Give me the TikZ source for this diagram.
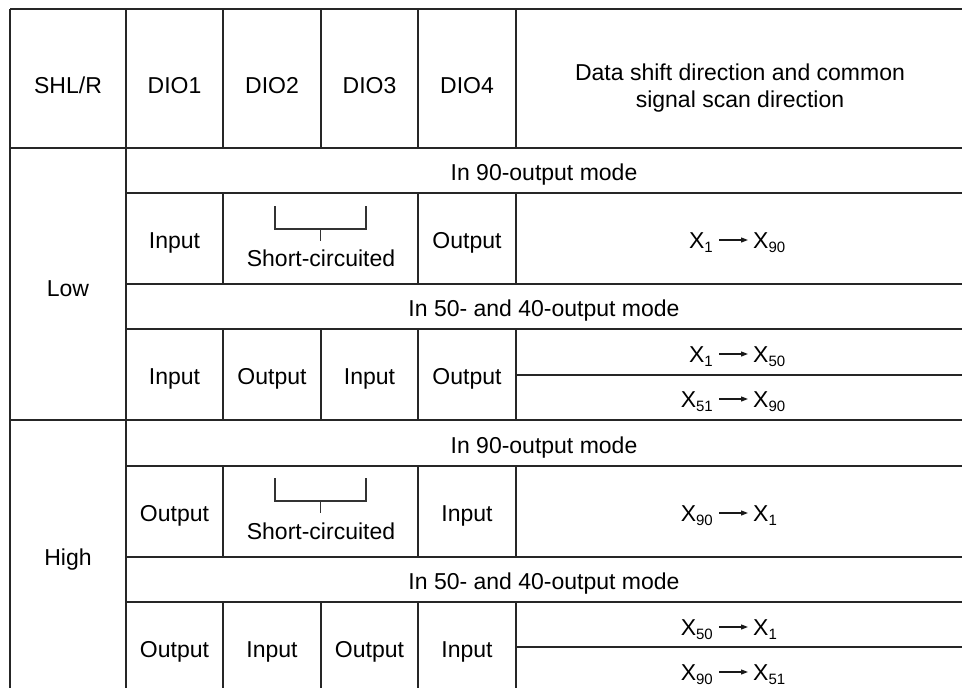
\documentclass[tikz,border=0pt]{standalone}
\usepackage{fontspec}
\setmainfont{Liberation Sans}
\usetikzlibrary{arrows.meta}
\newcommand\sbs[1]{\raisebox{-4pt}{\fontsize{15}{15}\selectfont #1}}
\begin{document}
\begin{tikzpicture}[x=1pt,y=-1pt,
  grid/.style={draw=black!85,line width=1.2pt},
  txt/.style={inner sep=0pt,anchor=base,font=\fontsize{23}{27}\selectfont},
  ltx/.style={txt,anchor=base east},
  rtx/.style={txt,anchor=base west},
  arr/.style={draw=black!90,line width=1.2pt,-{Triangle[length=7pt,width=5pt]}},
  brk/.style={draw=black!80,line width=1.2pt}]
\fill[white] (0,0) rectangle (962,688);
\useasboundingbox (0,0) rectangle (962,688);
\clip (0,0) rectangle (962,688);
% horizontal rules
\foreach \y in {9,148,420,693} \draw[grid] (10,\y) -- (975,\y);
\foreach \y in {193,284,329,466,557,602} \draw[grid] (126,\y) -- (975,\y);
\foreach \y in {375,647} \draw[grid] (516,\y) -- (975,\y);
% vertical rules
\draw[grid] (10,9) -- (10,693);
\draw[grid] (126,9) -- (126,693);
\foreach \x in {223,321,418,516} \draw[grid] (\x,9) -- (\x,148);
\foreach \x in {223,418,516} {
  \draw[grid] (\x,193) -- (\x,284);
  \draw[grid] (\x,466) -- (\x,557);
}
\foreach \x in {223,321,418,516} {
  \draw[grid] (\x,329) -- (\x,420);
  \draw[grid] (\x,602) -- (\x,693);
}
% header
\node[txt] (h0) at (68,93) {SHL/R};
\node[txt] (h1) at (174.5,93) {DIO1};
\node[txt] (h2) at (272,93) {DIO2};
\node[txt] (h3) at (369.5,93) {DIO3};
\node[txt] (h4) at (467,93) {DIO4};
\node[txt] (h5a) at (740,80) {Data shift direction and common};
\node[txt] (h5b) at (740,107) {signal scan direction};
% left labels
\node[txt] (low) at (68,296) {Low};
\node[txt] (high) at (68,565) {High};
% mode rows
\node[txt] (m1) at (544,180) {In 90-output mode};
\node[txt] (m2) at (544,316.5) {In 50- and 40-output mode};
\node[txt] (m3) at (544,453) {In 90-output mode};
\node[txt] (m4) at (544,589.5) {In 50- and 40-output mode};
% Low, 90-output
\node[txt] (a1) at (174.5,248) {Input};
\node[txt] (a4) at (467,248) {Output};
\node[txt] (sc1) at (321,266) {Short-circuited};
\draw[brk] (275,206) -- (275,229) -- (366,229) -- (366,206);
\draw[brk] (320.5,229) -- (320.5,241);
\node[ltx] (l1) at (713,248) {X\sbs{1}};
\node[rtx] (r1) at (753,248) {X\sbs{90}};
\draw[arr] ([shift={(6,-8)}]l1.base east) -- ([shift={(-5,-8)}]r1.base west);
% Low, 50/40-output
\node[txt] (b1) at (174.5,384) {Input};
\node[txt] (b2) at (272,384) {Output};
\node[txt] (b3) at (369.5,384) {Input};
\node[txt] (b4) at (467,384) {Output};
\node[ltx] (l2) at (713,362) {X\sbs{1}};
\node[rtx] (r2) at (753,362) {X\sbs{50}};
\draw[arr] ([shift={(6,-8)}]l2.base east) -- ([shift={(-5,-8)}]r2.base west);
\node[ltx] (l3) at (713,407) {X\sbs{51}};
\node[rtx] (r3) at (753,407) {X\sbs{90}};
\draw[arr] ([shift={(6,-8)}]l3.base east) -- ([shift={(-5,-8)}]r3.base west);
% High, 90-output
\node[txt] (c1) at (174.5,521) {Output};
\node[txt] (c4) at (467,521) {Input};
\node[txt] (sc2) at (321,539) {Short-circuited};
\draw[brk] (275,478) -- (275,501) -- (366,501) -- (366,478);
\draw[brk] (320.5,501) -- (320.5,513);
\node[ltx] (l4) at (713,521) {X\sbs{90}};
\node[rtx] (r4) at (753,521) {X\sbs{1}};
\draw[arr] ([shift={(6,-8)}]l4.base east) -- ([shift={(-5,-8)}]r4.base west);
% High, 50/40-output
\node[txt] (d1) at (174.5,657) {Output};
\node[txt] (d2) at (272,657) {Input};
\node[txt] (d3) at (369.5,657) {Output};
\node[txt] (d4) at (467,657) {Input};
\node[ltx] (l5) at (713,635) {X\sbs{50}};
\node[rtx] (r5) at (753,635) {X\sbs{1}};
\draw[arr] ([shift={(6,-8)}]l5.base east) -- ([shift={(-5,-8)}]r5.base west);
\node[ltx] (l6) at (713,680) {X\sbs{90}};
\node[rtx] (r6) at (753,680) {X\sbs{51}};
\draw[arr] ([shift={(6,-8)}]l6.base east) -- ([shift={(-5,-8)}]r6.base west);
\end{tikzpicture}
\end{document}
